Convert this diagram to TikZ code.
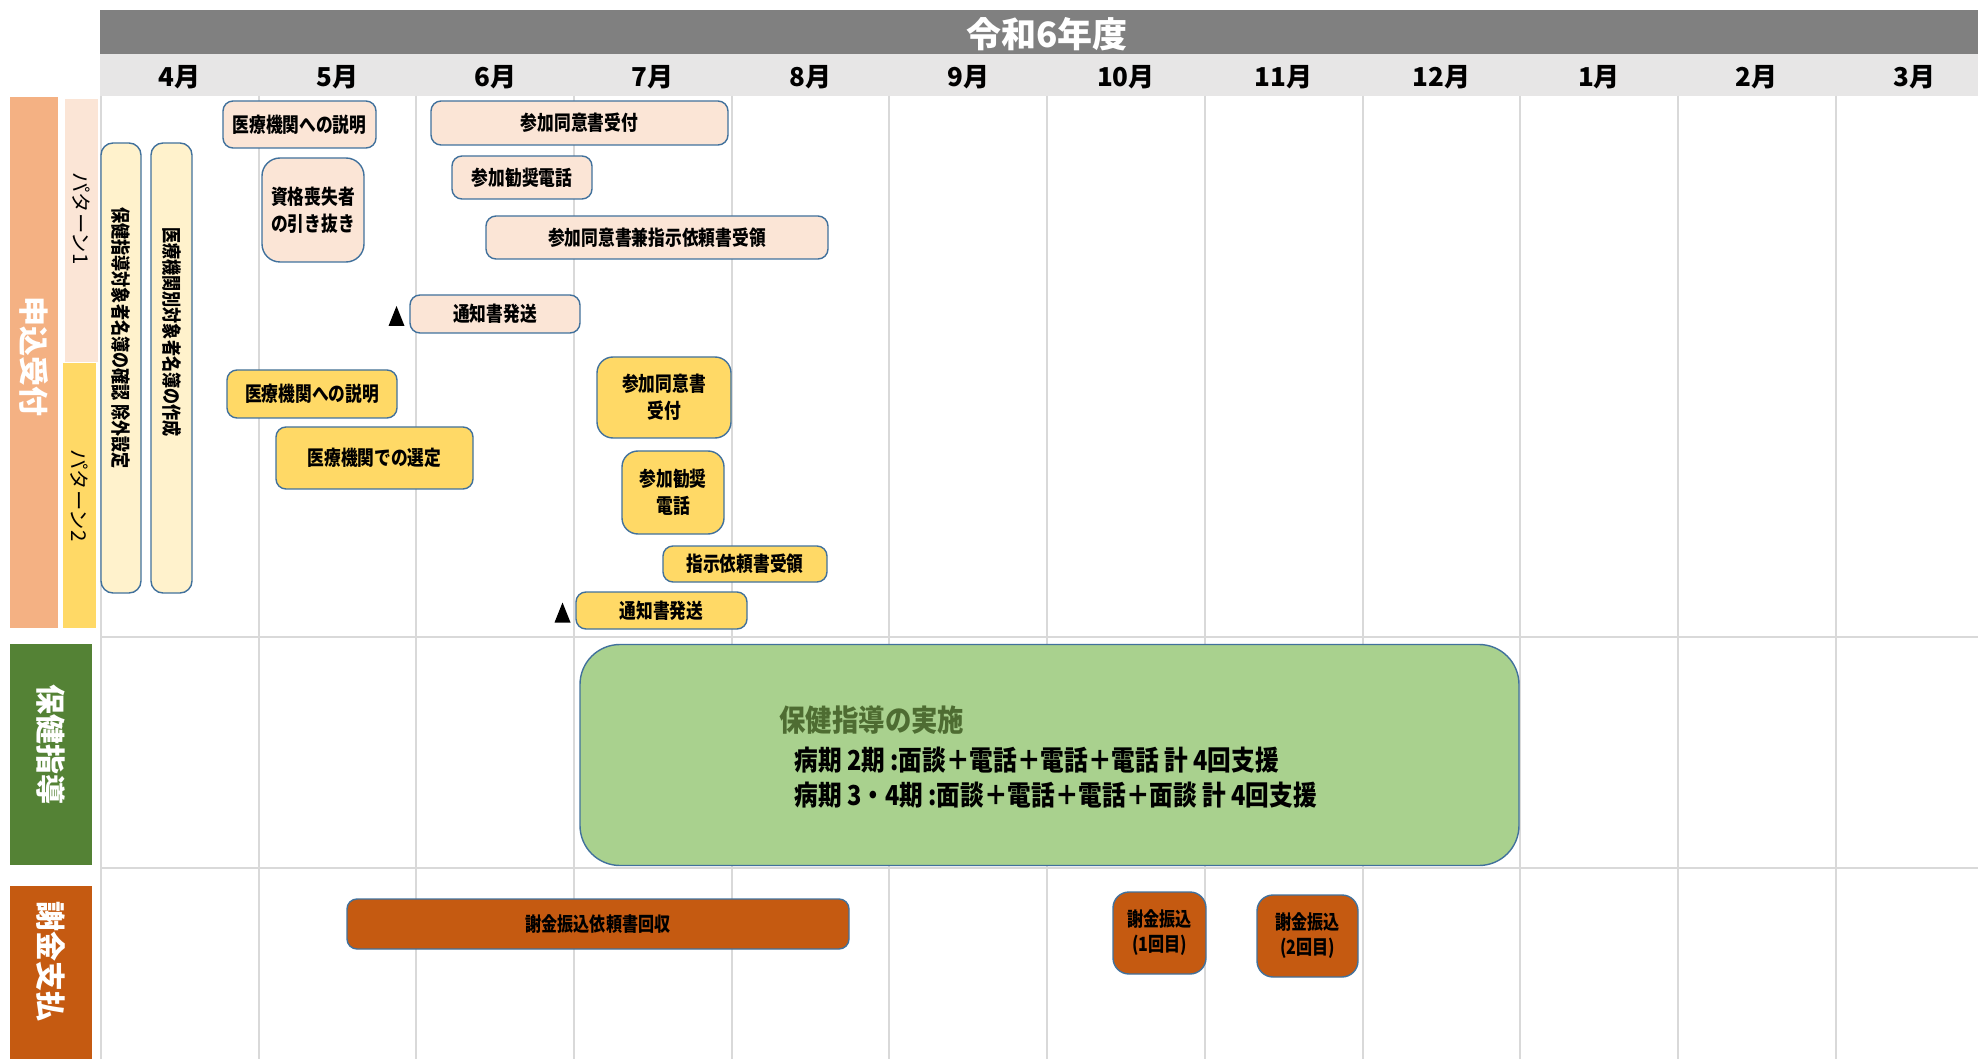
\documentclass[tikz,border=0pt]{standalone}
\usepackage{fontspec}
\setmainfont{Noto Sans CJK JP}
\newfontfamily\jpc{Noto Sans CJK JP}[FakeStretch=0.82]
\newfontfamily\jpm{Noto Sans CJK JP}[FakeStretch=0.88]
\newfontfamily\jpn{Noto Sans CJK JP}[FakeStretch=0.86]
\definecolor{hdrgray}{HTML}{808080}
\definecolor{rowgray}{HTML}{E7E6E6}
\definecolor{gridgray}{HTML}{D9D9D9}
\definecolor{bdr}{HTML}{41719C}
\definecolor{apri}{HTML}{F4B183}
\definecolor{pale}{HTML}{FBE5D6}
\definecolor{yel}{HTML}{FFD966}
\definecolor{lightyel}{HTML}{FFF2CC}
\definecolor{leaf}{HTML}{548235}
\definecolor{grn}{HTML}{A9D18E}
\definecolor{darkleaf}{HTML}{4E6C32}
\definecolor{brn}{HTML}{C55A11}
\newcommand{\pushup}[1]{\rule{#1}{0pt}}

\begin{document}
\begin{tikzpicture}[x=0.5pt, y=-0.5pt,
    task/.style={draw=bdr, line width=0.7pt, rounded corners=5pt, inner sep=0pt, align=center,
      font=\jpc\fontsize{10.2}{13.5}\selectfont\bfseries},
    p1/.style={task, fill=pale},
    p2/.style={task, fill=yel},
    pay/.style={task, fill=brn, font=\jpc\fontsize{9.8}{12.5}\selectfont\bfseries},
    tall/.style={draw=bdr, line width=0.7pt, fill=lightyel, rounded corners=6pt, rotate=-90, inner sep=0pt,
      font=\jpc\fontsize{9.8}{10}\selectfont\bfseries},
    side/.style={rotate=-90, inner sep=0pt, text=white, font=\bfseries\fontsize{15}{15}\selectfont},
    pat/.style={rotate=-90, inner sep=0pt, font=\fontsize{10.2}{10}\selectfont},
    body/.style={anchor=west, inner sep=0pt, font=\jpn\fontsize{13.75}{14}\selectfont\bfseries},
    gridline/.style={draw=gridgray, line width=1pt}]
\useasboundingbox (0,0) rectangle (1978,1059);

% header
\node[fill=hdrgray, minimum width=939pt, minimum height=22pt, inner sep=0pt] (hdr) at (1039,32) {};
\node[fill=rowgray, minimum width=939pt, minimum height=21pt, inner sep=0pt] (months) at (1039,75) {};
\node[text=white, font=\bfseries\fontsize{17.5}{18}\selectfont, inner sep=0pt] (title) at (1047,34) {令和6年度};
\foreach \m [count=\i from 0] in {4,5,6,7,8,9,10,11,12,1,2,3}
  \node[font=\bfseries\fontsize{13}{13}\selectfont, inner sep=0pt] (m\i) at ({100.9+157.7*(\i+0.5)},77) {\m 月};

% grid
\foreach \i in {0,...,11}
  \draw[gridline] ({100.9+157.7*\i},96) -- ({100.9+157.7*\i},1059);
\draw[gridline] (100,637) -- (1978,637);
\draw[gridline] (100,868) -- (1978,868);

% row labels
\node[side, fill=apri, minimum width=265.5pt, minimum height=24pt] (apply) at (34,362.5) {申込受付\pushup{6pt}};
\node[pat, fill=pale, minimum width=131.5pt, minimum height=16.5pt] (pat1) at (81.5,230.5) {パターン1\pushup{12pt}};
\node[pat, fill=yel, minimum width=132.5pt, minimum height=16.5pt] (pat2) at (79.5,495.5) {パターン2};
\node[side, fill=leaf, minimum width=110.5pt, minimum height=41pt] (guide) at (51,754.5) {保健指導\pushup{10pt}};
\node[side, fill=brn, minimum width=86.5pt, minimum height=41pt] (fee) at (51,972.5) {謝金支払\pushup{11pt}};

% list boxes
\node[tall, minimum width=225pt, minimum height=20pt] (list1) at (121,368) {保健指導対象者名簿の確認 除外設定\pushup{30pt}};
\node[tall, minimum width=225pt, minimum height=20.5pt] (list2) at (171.5,368) {医療機関別対象者名簿の作成\pushup{36pt}};

% pattern 1
\node[p1, minimum width=76.5pt, minimum height=23.5pt] (expl1) at (299.5,124.5) {医療機関への説明};
\node[p1, rounded corners=9pt, minimum width=51pt, minimum height=52pt] (loss) at (313,210) {資格喪失者\\の引き抜き};
\node[p1, minimum width=148.5pt, minimum height=22pt] (cons1) at (579.5,123) {参加同意書受付};
\node[p1, minimum width=70pt, minimum height=21.5pt] (call1) at (522,177.5) {参加勧奨電話};
\node[p1, minimum width=171pt, minimum height=21.5pt] (recv1) at (657,237.5) {参加同意書兼指示依頼書受領};
\node[p1, minimum width=85pt, minimum height=19pt] (note1) at (495,314) {通知書発送};
\coordinate (mk1) at (396.5,316);
\fill (mk1) ++(-8,10) -- ++(16,0) -- ++(-8,-20) -- cycle;

% pattern 2
\node[p2, minimum width=85pt, minimum height=24pt] (expl2) at (312,394) {医療機関への説明};
\node[p2, minimum width=98.5pt, minimum height=31pt] (sel) at (374.5,458) {医療機関での選定};
\node[p2, rounded corners=8pt, minimum width=67pt, minimum height=40.5pt] (cons2) at (664,397.5) {参加同意書\\受付};
\node[p2, rounded corners=8pt, minimum width=51pt, minimum height=41.5pt] (call2) at (673,492.5) {参加勧奨\\電話};
\node[p2, minimum width=82pt, minimum height=18pt] (inst) at (745,564) {指示依頼書受領};
\node[p2, minimum width=85.5pt, minimum height=18.5pt] (note2) at (661.5,610.5) {通知書発送};
\coordinate (mk2) at (562.5,612.5);
\fill (mk2) ++(-8,10) -- ++(16,0) -- ++(-8,-20) -- cycle;

% guidance
\node[draw=bdr, line width=0.7pt, fill=grn, rounded corners=20pt, minimum width=469.5pt, minimum height=110.5pt] (care) at (1049.5,755) {};
\node[body, text=darkleaf, font=\jpm\fontsize{15}{15}\selectfont\bfseries] (carettl) at (779,720) {保健指導の実施};
\node[body] (stage2) at (794,760) {病期 2期 :面談＋電話＋電話＋電話\ 計 4回支援};
\node[body] (stage34) at (794,795) {病期 3・4期 :面談＋電話＋電話＋面談\ 計 4回支援};

% fee
\node[pay, minimum width=251pt, minimum height=25pt] (coll) at (598,924) {謝金振込依頼書回収};
\node[pay, rounded corners=8pt, minimum width=46.5pt, minimum height=41pt] (pay1) at (1159.5,933) {謝金振込\\(1回目)};
\node[pay, rounded corners=8pt, minimum width=50.5pt, minimum height=41pt] (pay2) at (1307.5,936) {謝金振込\\(2回目)};
\end{tikzpicture}
\end{document}
